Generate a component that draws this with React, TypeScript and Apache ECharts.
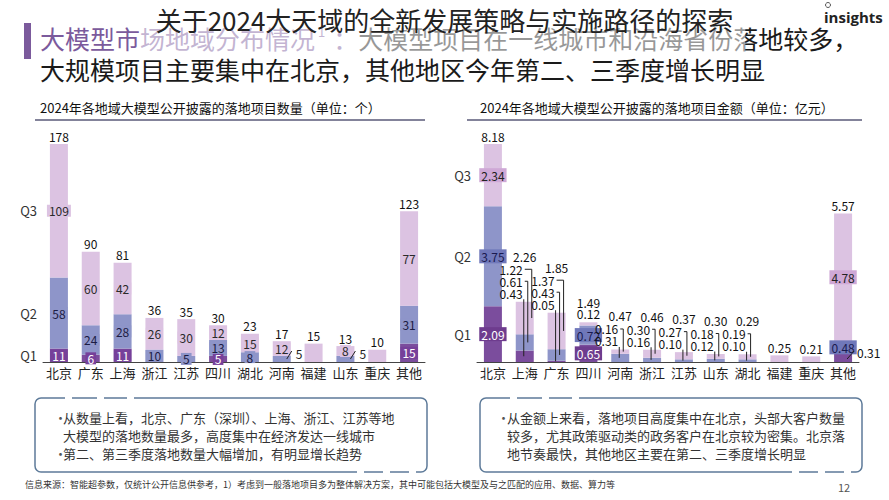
import React, { useEffect, useRef } from 'react';
import * as echarts from 'echarts';

// ---------------- data ----------------
const quarters = ['Q1', 'Q2', 'Q3'];

const countRegions = ['北京', '广东', '上海', '浙江', '江苏', '四川', '湖北', '河南', '福建', '山东', '重庆', '其他'];
const countQ1 = [11, 6, 11, 0, 0, 5, 0, 0, 0, 0, 0, 15];
const countQ2 = [58, 24, 28, 10, 5, 13, 8, 5, 0, 5, 0, 31];
const countQ3 = [109, 60, 42, 26, 30, 12, 15, 12, 15, 8, 10, 77];

const amountRegions = ['北京', '上海', '广东', '四川', '河南', '浙江', '江苏', '山东', '湖北', '福建', '重庆', '其他'];
const amountQ1 = [2.09, 0.43, 0.05, 0.65, 0, 0, 0, 0, 0, 0, 0, 0.31];
const amountQ2 = [3.75, 0.61, 0.43, 0.72, 0.31, 0.16, 0.1, 0.12, 0.1, 0, 0, 0.48];
const amountQ3 = [2.34, 1.22, 1.37, 0.12, 0.16, 0.3, 0.27, 0.18, 0.19, 0.25, 0.21, 4.78];

const pageTitle = '关于2024大天域的全新发展策略与实施路径的探索';
const headingPurple = '大模型市场地域分布情况';
const headingRest1 = '大模型项目在一线城市和沿海省份落地较多，';
const headingLine2 = '大规模项目主要集中在北京，其他地区今年第二、三季度增长明显';
const leftTitle = '2024年各地域大模型公开披露的落地项目数量（单位：个）';
const rightTitle = '2024年各地域大模型公开披露的落地项目金额（单位：亿元）';
const leftNotes = [
  '从数量上看，北京、广东（深圳）、上海、浙江、江苏等地',
  '大模型的落地数量最多，高度集中在经济发达一线城市',
  '第二、第三季度落地数量大幅增加，有明显增长趋势',
];
const rightNotes = [
  '从金额上来看，落地项目高度集中在北京，头部大客户数量',
  '较多，尤其政策驱动类的政务客户在北京较为密集。北京落',
  '地节奏最快，其他地区主要在第二、三季度增长明显',
];
const footnote =
  '信息来源：智能超参数，仅统计公开信息供参考，1）考虑到一般落地项目多为整体解决方案，其中可能包括大模型及与之匹配的应用、数据、算力等';
const pageNumber = '12';

// ---------------- layout / style ----------------
const FONT = '"Noto Sans CJK SC", "Noto Sans", sans-serif';
const QC = ['#7b4d9d', '#8e95c9', '#dcc3e2'];
const GRID_TOP = 144;
const GRID_H = 218;
const GRID_W = 382;
const LEFT_X = 43;
const RIGHT_X = 477;

const leftSide = new Set(['河南', '山东']);
const calloutCats = new Set(['上海', '广东', '河南', '浙江', '江苏', '山东', '湖北']);
const CALLOUT_SHIFT = -2;
const amountPlace: Record<string, string[]> = {
  四川: ['inside', 'inside', 'top'],
  其他: ['right', 'inside', 'inside'],
};

const sum3 = (a: number[], b: number[], c: number[]) => a.map((v, i) => Math.round((v + b[i] + c[i]) * 100) / 100);
const countTotal = sum3(countQ1, countQ2, countQ3);
const amountTotal = sum3(amountQ1, amountQ2, amountQ3);
const mids = (q: number[][], i: number) => {
  const a = q[0][i], b = q[1][i], c = q[2][i];
  return [a / 2, a + b / 2, a + b + c / 2];
};

function yAxis(gi: number, max: number, m: number[]) {
  return {
    type: 'value',
    gridIndex: gi,
    min: 0,
    max,
    axisLine: { show: false },
    axisTick: { show: false },
    splitLine: { show: false },
    axisLabel: {
      customValues: m,
      formatter: (v: number) => {
        const k = m.findIndex((x) => Math.abs(x - v) < 1e-6);
        return k >= 0 ? quarters[k] : '';
      },
      fontSize: 13,
      color: '#333',
      margin: 6,
      fontFamily: FONT,
    },
  };
}

function xAxis(gi: number, data: string[]) {
  return {
    type: 'category',
    gridIndex: gi,
    data,
    axisLine: { lineStyle: { color: '#444', width: 1 } },
    axisTick: { show: false },
    axisLabel: { fontSize: 13, color: '#222', margin: 4, fontFamily: FONT, interval: 0 },
  };
}

function buildOption() {
  const cq = [countQ1, countQ2, countQ3];
  const aq = [amountQ1, amountQ2, amountQ3];
  const leftLabel = [
    { color: '#fff', backgroundColor: '#76409a' },
    { color: '#1c1c44', backgroundColor: QC[1] },
    { color: '#2a2a2a', backgroundColor: QC[2] },
  ];
  const rightLabel = [
    { color: '#fff', backgroundColor: '#6e3c8e' },
    { color: '#1a1a50', backgroundColor: '#7078ba' },
    { color: '#222', backgroundColor: '#cfa8d6' },
  ];
  const series: any[] = [];
  cq.forEach((arr, qi) => {
    series.push({
      type: 'bar',
      name: quarters[qi],
      xAxisIndex: 0,
      yAxisIndex: 0,
      stack: 'count',
      barWidth: 18,
      itemStyle: { color: QC[qi] },
      label: {
        position: 'inside',
        fontSize: 12,
        fontFamily: FONT,
        padding: [0, 2],
        ...leftLabel[qi],
        formatter: (p: any) => String(p.value),
      },
      data: arr.map((v, i) => {
        const n = cq.filter((a) => a[i] > 0).length;
        const show = v > 0 && n > 1;
        const side = qi === 1 && leftSide.has(countRegions[i]);
        const lab: any = { show };
        if (side) Object.assign(lab, { position: 'right', distance: 3, offset: [0, -5], color: '#222', backgroundColor: 'transparent' });
        return { value: v, label: lab };
      }),
    });
  });
  series.push({
    type: 'bar',
    name: 'total-count',
    xAxisIndex: 0,
    yAxisIndex: 0,
    stack: 'count',
    barWidth: 18,
    silent: true,
    itemStyle: { color: 'transparent' },
    label: {
      show: true,
      position: 'top',
      distance: 2,
      fontSize: 12,
      fontFamily: FONT,
      color: '#111',
      formatter: (p: any) => String(countTotal[p.dataIndex]),
    },
    data: countTotal.map(() => 0),
  });

  aq.forEach((arr, qi) => {
    series.push({
      type: 'bar',
      name: quarters[qi] + '-amt',
      xAxisIndex: 1,
      yAxisIndex: 1,
      stack: 'amount',
      barWidth: 18,
      itemStyle: { color: QC[qi] },
      label: {
        position: 'inside',
        fontSize: 12,
        fontFamily: FONT,
        padding: [1, 2],
        ...rightLabel[qi],
        formatter: (p: any) => Number(p.value).toFixed(2),
      },
      data: arr.map((v, i) => {
        const name = amountRegions[i];
        const n = aq.filter((a) => a[i] > 0).length;
        const callout = calloutCats.has(name);
        const place = (amountPlace[name] || ['inside', 'inside', 'inside'])[qi];
        const lab: any = { show: v > 0 && n > 1 && !callout };
        if (place === 'top') Object.assign(lab, { position: 'top', distance: 2, backgroundColor: 'transparent', color: '#111' });
        if (place === 'right') Object.assign(lab, { position: 'right', distance: 3, offset: [0, -5], backgroundColor: 'transparent', color: '#111' });
        return { value: v, label: lab };
      }),
    });
  });
  series.push({
    type: 'bar',
    name: 'total-amount',
    xAxisIndex: 1,
    yAxisIndex: 1,
    stack: 'amount',
    barWidth: 18,
    silent: true,
    itemStyle: { color: 'transparent' },
    label: {
      show: true,
      position: 'top',
      distance: 2,
      fontSize: 12,
      fontFamily: FONT,
      color: '#111',
      formatter: (p: any) => amountTotal[p.dataIndex].toFixed(2),
    },
    data: amountTotal.map((_, i) => {
      const name = amountRegions[i];
      const hasTop = (amountPlace[name] || []).includes('top');
      return { value: 0, label: { show: !calloutCats.has(name), offset: [0, hasTop ? -12 : 0] } };
    }),
  });

  return {
    animation: false,
    backgroundColor: '#fff',
    title: {
      text: pageTitle,
      left: 'center',
      top: 4,
      padding: [2, 12, 20, 16],
      backgroundColor: 'rgba(255,255,255,0.55)',
      textStyle: { fontSize: 26, fontWeight: 'normal', color: '#222', fontFamily: FONT },
    },
    grid: [
      { left: LEFT_X, top: GRID_TOP, width: GRID_W, height: GRID_H },
      { left: RIGHT_X, top: GRID_TOP, width: GRID_W, height: GRID_H },
    ],
    xAxis: [xAxis(0, countRegions), xAxis(1, amountRegions)],
    yAxis: [
      yAxis(0, Math.max(...countTotal), mids(cq, 0)),
      yAxis(1, Math.max(...amountTotal), mids(aq, 0)),
    ],
    series,
  };
}

function txt(x: number, y: number, text: string, fontSize: number, fill: string, extra: any = {}) {
  return {
    type: 'text',
    z: 1,
    style: { text, x, y, fontSize, fill, fontFamily: FONT, verticalAlign: 'middle', ...extra },
  };
}

function staticGraphics() {
  const g: any[] = [];
  g.push({ type: 'rect', z: 1, shape: { x: 24, y: 23, width: 7, height: 36 }, style: { fill: '#7b5a9c' } });
  g.push({
    type: 'text',
    z: 1,
    style: {
      x: 40,
      y: 38,
      verticalAlign: 'middle',
      text: `{p|${headingPurple}}{s|1}{p|：}{b|${headingRest1}}`,
      rich: {
        p: { fill: '#7b5a9c', fontSize: 25, fontFamily: FONT },
        s: { fill: '#7b5a9c', fontSize: 13, fontFamily: FONT, verticalAlign: 'top', padding: [0, 8, 0, 3] },
        b: { fill: '#1a1a1a', fontSize: 25, fontFamily: FONT },
      },
    },
  });
  g.push(txt(40, 69, headingLine2, 25, '#1a1a1a'));
  // logo
  g.push(txt(824, 17, 'insights', 15, '#222', { fontFamily: '"Open Sans", sans-serif', fontWeight: 'bold' }));
  g.push({ type: 'circle', z: 1, shape: { cx: 828, cy: 5, r: 2.5 }, style: { fill: 'none', stroke: '#555', lineWidth: 1 } });
  // chart titles and rules
  g.push(txt(40, 107, leftTitle, 13, '#111'));
  g.push(txt(480, 107, rightTitle, 13, '#111'));
  g.push({ type: 'line', z: 1, shape: { x1: 35, y1: 120, x2: 425, y2: 120 }, style: { stroke: '#5a5a78', lineWidth: 1.5 } });
  g.push({ type: 'line', z: 1, shape: { x1: 467, y1: 120, x2: 862, y2: 120 }, style: { stroke: '#5a5a78', lineWidth: 1.5 } });
  // note boxes
  const boxes = [
    { x: 35, w: 392, notes: leftNotes, bullets: [true, false, true], bx: 19, tx: 28 },
    { x: 480, w: 382, notes: rightNotes, bullets: [true, false, false], bx: 17, tx: 27 },
  ];
  boxes.forEach((b) => {
    g.push({
      type: 'rect',
      z: 1,
      shape: { x: b.x, y: 398, width: b.w, height: 74, r: 6 },
      style: { fill: 'none', stroke: '#5d7a99', lineWidth: 1.5 },
    });
    [30, 62, 92].forEach((gx) =>
      g.push({ type: 'rect', z: 2, shape: { x: b.x + gx, y: 395, width: 7, height: 6 }, style: { fill: '#fff' } }),
    );
    [-70, -44, -18].forEach((gx) =>
      g.push({ type: 'rect', z: 2, shape: { x: b.x + b.w + gx, y: 469, width: 7, height: 6 }, style: { fill: '#fff' } }),
    );
    b.notes.forEach((line, k) => {
      const y = 417 + k * 18;
      if (b.bullets[k]) g.push(txt(b.x + b.bx, y, '•', 13, '#555'));
      g.push(txt(b.x + b.tx, y, line, 13, '#333'));
    });
  });
  g.push(txt(25, 484, footnote, 9, '#333'));
  g.push(txt(838, 487, pageNumber, 11, '#555'));
  return g;
}

function dynamicGraphics(chart: any) {
  const out: any[] = [];
  const P = (gi: number, i: number, v: number) => chart.convertToPixel({ gridIndex: gi }, [i, v]) as number[];
  const lineStyle = { stroke: '#222', lineWidth: 1 };
  countRegions.forEach((name, i) => {
    if (!leftSide.has(name)) return;
    const [cx, y0] = P(0, i, 0);
    out.push({ type: 'line', z: 10, shape: { x1: cx + 5, y1: y0 - 3, x2: cx + 10, y2: y0 - 11 }, style: lineStyle });
  });
  amountRegions.forEach((name, i) => {
    const place = amountPlace[name];
    if (place && place[0] === 'right') {
      const [cx, y0] = P(1, i, 0);
      out.push({ type: 'line', z: 10, shape: { x1: cx + 4, y1: y0 - 3, x2: cx + 11, y2: y0 - 11 }, style: lineStyle });
    }
  });
  amountRegions.forEach((name, i) => {
    if (!calloutCats.has(name)) return;
    const vals = [amountQ1[i], amountQ2[i], amountQ3[i]];
    const [cx] = P(1, i, 0);
    const top = P(1, i, amountTotal[i])[1];
    const labelRight = cx + CALLOUT_SHIFT;
    let cum = 0;
    let k = 0;
    vals.forEach((v) => {
      if (v <= 0) return;
      const mid = P(1, i, cum + v / 2)[1];
      cum += v;
      const rowY = top - 8.5 - 12 * k;
      out.push({
        type: 'text',
        z: 10,
        style: { text: v.toFixed(2), x: labelRight, y: rowY, align: 'right', verticalAlign: 'middle', fontSize: 12, fill: '#111', fontFamily: FONT },
      });
      const lx = cx - 1 + 4 * k;
      const pts = lx > labelRight + 3 ? [[labelRight + 2, rowY], [lx, rowY], [lx, mid]] : [[lx, rowY + 6], [lx, mid]];
      out.push({ type: 'polyline', z: 10, shape: { points: pts }, style: lineStyle });
      k++;
    });
    out.push({
      type: 'text',
      z: 10,
      style: {
        text: amountTotal[i].toFixed(2),
        x: cx,
        y: top - 8.5 - 12 * k - 1,
        align: 'center',
        verticalAlign: 'middle',
        fontSize: 12,
        fill: '#111',
        fontFamily: FONT,
      },
    });
  });
  return out;
}

export default function App() {
  const ref = useRef<HTMLDivElement>(null);
  useEffect(() => {
    const el = ref.current;
    if (!el) return;
    const chart = echarts.init(el, null, { renderer: 'svg', width: 889, height: 500 });
    chart.setOption(buildOption() as any);
    chart.setOption({ graphic: [...staticGraphics(), ...dynamicGraphics(chart)] } as any);
    return () => chart.dispose();
  }, []);
  return (
    <div
      ref={ref}
      style={{ position: 'absolute', left: 0, top: 0, width: 889, height: 500, background: '#fff' }}
    />
  );
}
